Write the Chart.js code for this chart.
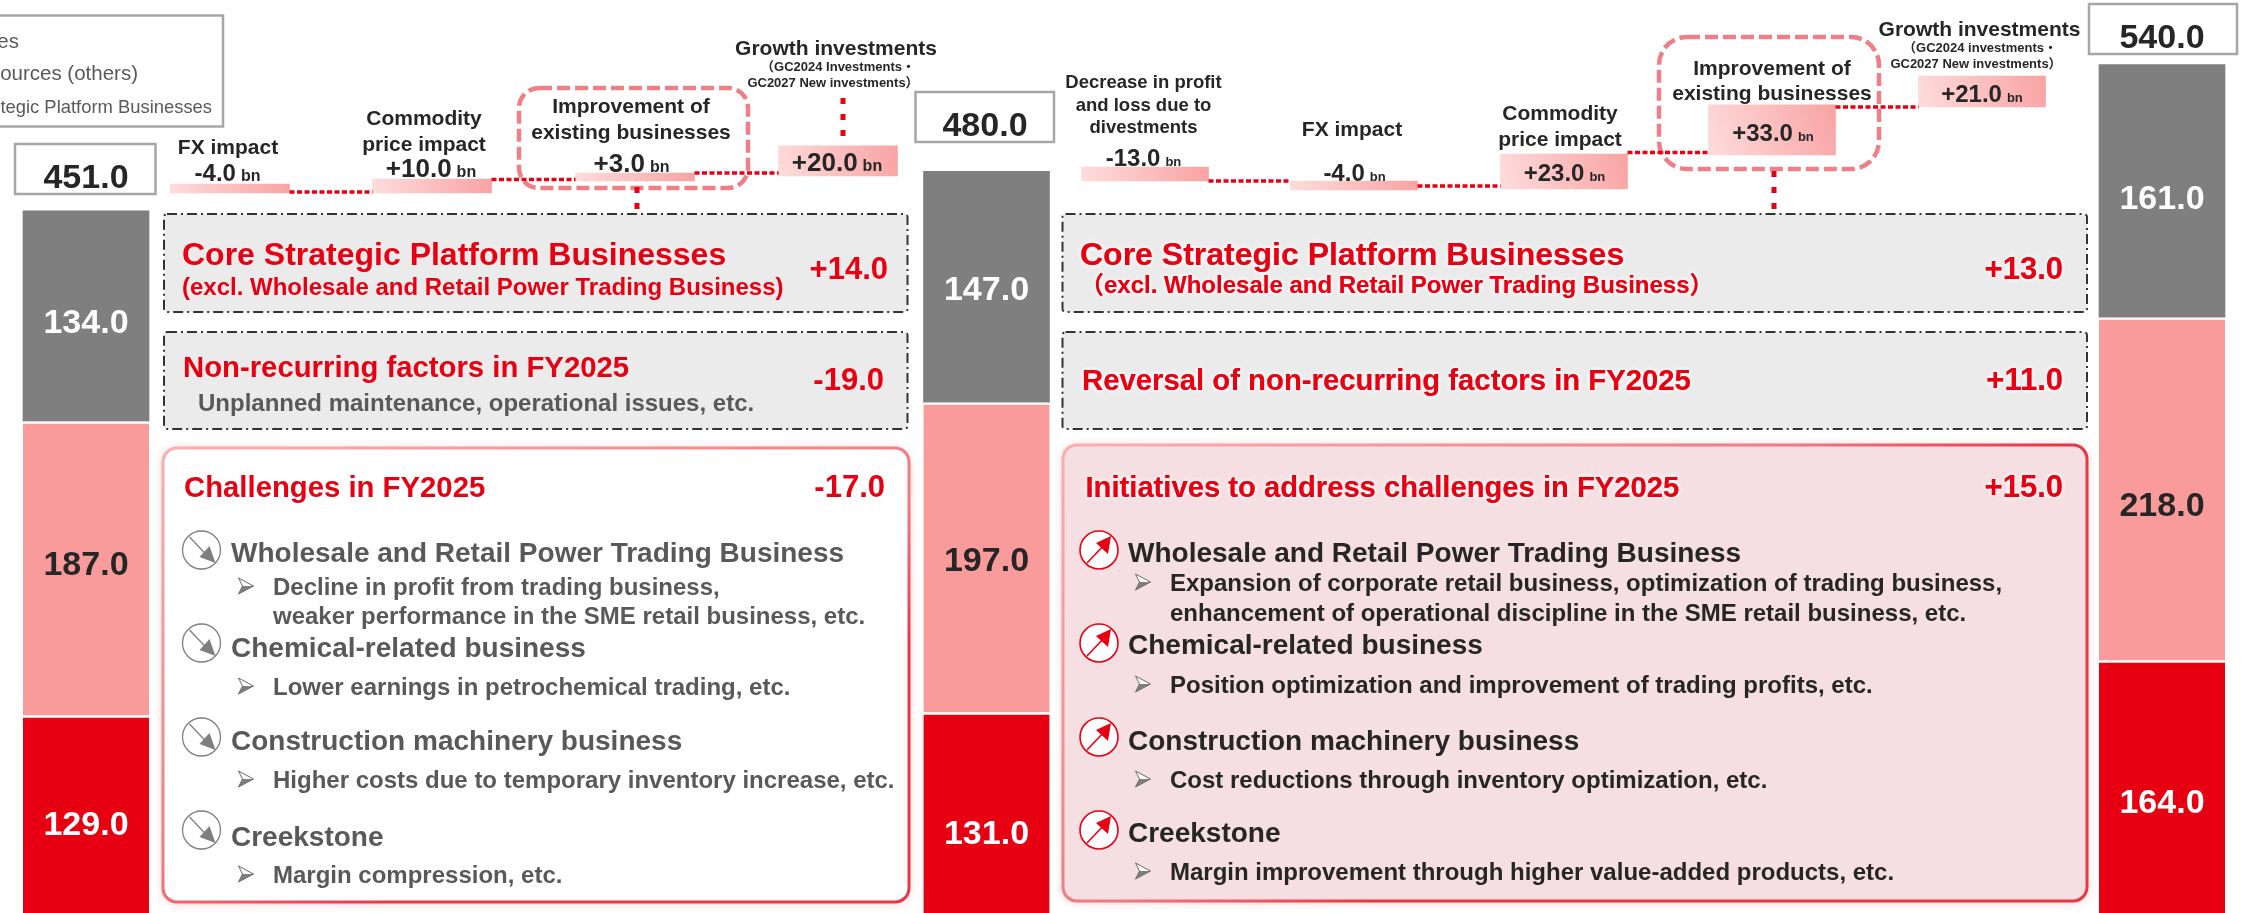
<!DOCTYPE html>
<html><head><meta charset="utf-8">
<style>html,body{margin:0;padding:0;background:#fff;overflow:hidden}canvas{display:block}</style>
<script src="https://cdn.jsdelivr.net/npm/chart.js@4"></script>
</head><body><canvas id="c" width="2241" height="913"></canvas>
<script>
// ---------- data ----------
const categories = ['FY2025','FX impact','Commodity price impact','Improvement of existing businesses','Growth investments','FY2026','Decrease due to divestments','FX impact','Commodity price impact','Improvement of existing businesses','Growth investments','FY2027'];
const coreRed   = [129,null,null,null,null,131,null,null,null,null,null,164];
const corePink  = [187,null,null,null,null,197,null,null,null,null,null,218];
const coreGray  = [134,null,null,null,null,147,null,null,null,null,null,161];
const totalText = ['451.0','480.0','540.0'];
const bridgeLow  = [null,461.3,461.3,468.9,472.1,null,468.9,463.2,463.9,485.5,516.0,null];
const bridgeHigh = [null,467.0,470.2,474.0,491.2,null,477.8,468.9,486.1,517.3,535.7,null];
const connectorLevels = [null,461.9,469.9,474.0,null,null,468.9,465.8,487.1,516.0,null,null];
const bridgeText = [null,'-4.0','+10.0','+3.0','+20.0',null,'-13.0','-4.0','+23.0','+33.0','+21.0',null];

// ---------- layout ----------
const slotCentres = [86,230,432,635,838,986.5,1145,1354,1564,1772,1982,2162];
const W = 2241, H = 913;
const RED='#E60012', PINK='#FA9B9B', GRAY='#7F7F7F', DARK='#262626', MID='#595959';
const FONT='"Liberation Sans", Arial, "Noto Sans CJK JP"';

class SlotScale extends Chart.CategoryScale {
  static id = 'slot';
  static defaults = Chart.CategoryScale.defaults;
  getPixelForValue(v){
    const i = typeof v === 'number' ? v : this.parse(v);
    return this.left + slotCentres[i] / W * this.width;
  }
}
Chart.register(SlotScale);

function zip(a,b,from,to){ return a.map((v,i)=> (v===null||i<from||i>to) ? null : [v,b[i]]); }

function bridgeFill(ctx){
  if(ctx.type!=='data'||!ctx.raw) return '#F9A6A6';
  const s=ctx.chart.scales, cx=s.x.getPixelForValue(ctx.dataIndex), hw=ctx.dataset.maxBarThickness/2;
  const g=ctx.chart.ctx.createLinearGradient(cx-hw,s.y.getPixelForValue(ctx.raw[0]),cx+hw,s.y.getPixelForValue(ctx.raw[1]));
  g.addColorStop(0,'#FEDCDC'); g.addColorStop(1,'#F9A3A3');
  return g;
}

function T(c,s,x,y,size,color,o={}){
  c.save();
  c.font=(o.weight||'bold')+' '+size+'px '+FONT;
  c.fillStyle=color; c.textAlign=o.align||'left'; c.textBaseline='alphabetic';
  if(o.glow){c.shadowColor='rgba(255,255,255,0.95)';c.shadowBlur=5;}
  c.fillText(s,x,y+0.36*size);
  if(o.glow){c.fillText(s,x,y+0.36*size);}
  c.restore();
}
function rr(c,x,y,w,h,r){c.beginPath();c.roundRect(x,y,w,h,r);}
function dashBox(c,x,y,w,h){
  c.save();rr(c,x,y,w,h,3);c.fillStyle='#EBEBEB';c.fill();
  c.setLineDash([10,4,2,4]);c.strokeStyle='#333';c.lineWidth=2;c.stroke();c.restore();
}
function pinkDash(c,x,y,w,h,r){
  c.save();rr(c,x,y,w,h,r);c.setLineDash([13,5]);c.strokeStyle='#EE7F86';c.lineWidth=4.5;c.stroke();c.restore();
}
function redDash(c,x,y1,y2){
  c.save();c.beginPath();c.moveTo(x,y1);c.lineTo(x,y2);c.setLineDash([6,10]);c.strokeStyle=RED;c.lineWidth=5;c.stroke();c.restore();
}
function softPanel(c,x,y,w,h,fill){
  c.save();rr(c,x,y,w,h,14);
  c.shadowColor='rgba(200,60,70,0.30)';c.shadowBlur=10;c.shadowOffsetY=1;
  c.fillStyle=fill;c.fill();c.shadowColor='transparent';
  const g=c.createLinearGradient(x,y,x+w*0.3,y+h);
  g.addColorStop(0,'#F9B0B0');g.addColorStop(0.75,'#F0787F');g.addColorStop(1,'#E63946');
  c.strokeStyle=g;c.lineWidth=3;c.stroke();c.restore();
}
function downIcon(c,cx,cy){
  c.save();c.beginPath();c.arc(cx,cy,19,0,Math.PI*2);c.fillStyle='#fff';c.fill();
  c.strokeStyle='#7F7F7F';c.lineWidth=1.3;c.stroke();
  c.beginPath();c.moveTo(cx-12,cy-13);c.lineTo(cx+8,cy+8);c.stroke();
  c.beginPath();c.moveTo(cx+14,cy+13);c.lineTo(cx-2,cy+7);c.lineTo(cx+8,cy-4);c.closePath();c.fillStyle='#7F7F7F';c.fill();c.restore();
}
function upIcon(c,cx,cy){
  c.save();c.beginPath();c.arc(cx,cy,19,0,Math.PI*2);c.fillStyle='#fff';c.fill();
  c.strokeStyle=RED;c.lineWidth=1.6;c.stroke();
  c.beginPath();c.moveTo(cx-12,cy+13);c.lineTo(cx+7,cy-7);c.stroke();
  c.beginPath();c.moveTo(cx+12,cy-14);c.lineTo(cx+9,cy+4);c.lineTo(cx-3,cy-7);c.closePath();c.fillStyle=RED;c.fill();c.restore();
}
function bullet(c,x,y){
  c.save();c.beginPath();c.moveTo(x-7,y-8);c.lineTo(x+8,y);c.lineTo(x-7,y+8);c.lineTo(x-3,y);c.closePath();
  c.fillStyle='#fff';c.fill();
  c.beginPath();c.moveTo(x+8,y);c.lineTo(x-7,y+8);c.lineTo(x-3,y);c.closePath();c.fillStyle='#7F7F7F';c.fill();
  c.beginPath();c.moveTo(x-7,y-8);c.lineTo(x+8,y);c.lineTo(x-7,y+8);c.lineTo(x-3,y);c.closePath();
  c.strokeStyle='#6b6b6b';c.lineWidth=1;c.stroke();c.restore();
}

const bridgeLabelStyle = {1:[227.5,172,24,16],2:[431,168,26,16],3:[631.5,163,26,16],4:[837,162,26,16],
  6:[1143.5,157,24,13],7:[1354.5,172,24,13],8:[1564.5,172,24,13],9:[1773,132,24,13],10:[1982,93,24,13]};

const slidePlugin = {
  id:'slide',
  beforeDatasetsDraw(chart){
    const c=chart.ctx;
    // legend fragment, cut by the slide edge
    c.save();c.strokeStyle='#A6A6A6';c.lineWidth=2.5;c.strokeRect(-6,15.5,229,111);c.restore();
    T(c,'es',19,41,20.5,MID,{align:'right',weight:'normal'});
    T(c,'ources (others)',138,73,20.5,MID,{align:'right',weight:'normal'});
    T(c,'tegic Platform Businesses',212,106,18.4,MID,{align:'right',weight:'normal'});
    // total boxes
    [[15,144,140.5,50,86,176],[915.5,92,138.5,50,985,124],[2089,4,148,50,2162,36]].forEach((b,i)=>{
      c.save();c.fillStyle='#fff';c.fillRect(b[0],b[1],b[2],b[3]);c.strokeStyle='#A6A6A6';c.lineWidth=2.5;c.strokeRect(b[0],b[1],b[2],b[3]);c.restore();
      T(c,totalText[i],b[4],b[5],34,DARK,{align:'center'});
    });
    // highlight boxes behind bridge bars
    pinkDash(c,519,88,229,100,20);
    pinkDash(c,1659,37,220,132,28);
    redDash(c,637,187,210);
    redDash(c,843,98,140);
    redDash(c,1774,171,210);
  },
  afterDatasetsDraw(chart){
    const c=chart.ctx, x=chart.scales.x, y=chart.scales.y;
    // bar value labels (vertical centres as placed on the slide)
    const labelY=[[823,832,801],[563,559,504],[321,288,197]];
    [[0,'#fff'],[1,DARK],[2,'#fff']].forEach(([ds,col])=>{
      const meta=chart.getDatasetMeta(ds), src=chart.data.datasets[ds].data;
      [0,5,11].forEach((idx,j)=>{
        T(c,src[idx].toFixed(1),meta.data[idx].x,labelY[ds][j],34,col,{align:'center'});
      });
    });
    // bridge connectors
    c.save();c.strokeStyle=RED;c.lineWidth=3.5;c.setLineDash([5,2.5]);
    connectorLevels.forEach((lv,i)=>{
      if(lv===null) return;
      const ds=i<5?3:4, a=chart.getDatasetMeta(ds).data[i], b=chart.getDatasetMeta(ds).data[i+1];
      const yy=y.getPixelForValue(lv);
      c.beginPath();c.moveTo(a.x+a.width/2,yy);c.lineTo(b.x-b.width/2,yy);c.stroke();
    });
    c.restore();
    // bridge labels
    bridgeText.forEach((s,i)=>{
      if(!s) return;
      const [cx,cy,size,small]=bridgeLabelStyle[i];
      c.save();c.font='bold '+size+'px '+FONT;const w1=c.measureText(s).width;
      c.font='bold '+small+'px '+FONT;const w2=c.measureText('bn').width;c.restore();
      const left=cx-(w1+5+w2)/2;
      T(c,s,left,cy,size,DARK);
      c.save();c.font='bold '+small+'px '+FONT;c.fillStyle=DARK;c.fillText('bn',left+w1+5,cy+0.36*size);c.restore();
    });
    // bridge captions
    const cap=(s,cx,cy,size=21)=>T(c,s,cx,cy,size,DARK,{align:'center'});
    cap('FX impact',228,146);
    cap('Commodity',424,117);cap('price impact',424,143);
    cap('Improvement of',631,105);cap('existing businesses',631,131);
    cap('Growth investments',836,47);
    cap('（GC2024 Investments・',838,66,13);cap('GC2027 New investments）',833,82,13);
    cap('Decrease in profit',1143.5,81,18.5);cap('and loss due to',1143.5,104,18.5);cap('divestments',1143.5,126,18.5);
    cap('FX impact',1352,128);
    cap('Commodity',1560,112);cap('price impact',1560,138);
    cap('Improvement of',1772,67);cap('existing businesses',1772,92);
    cap('Growth investments',1979.5,28);
    cap('（GC2024 investments・',1980,47,13);cap('GC2027 New investments）',1976,63,13);

    // left panels
    dashBox(c,164,214,743.5,98);
    T(c,'Core Strategic Platform Businesses',182,253,32,RED);
    T(c,'(excl. Wholesale and Retail Power Trading Business)',182,286,24,RED);
    T(c,'+14.0',888,268,31,RED,{align:'right'});
    dashBox(c,164,332,743.5,97);
    T(c,'Non-recurring factors in FY2025',183,366,29.3,RED);
    T(c,'Unplanned maintenance, operational issues, etc.',198,402,24,MID);
    T(c,'-19.0',884,379,31,RED,{align:'right'});
    softPanel(c,163,448,746,454,'#FFFFFF');
    T(c,'Challenges in FY2025',184,486,29.3,RED);
    T(c,'-17.0',885,486,31,RED,{align:'right'});
    [550,643,737,830].forEach(v=>downIcon(c,201.5,v));
    [['Wholesale and Retail Power Trading Business',552],['Chemical-related business',647],['Construction machinery business',740],['Creekstone',836]]
      .forEach(([s,v])=>T(c,s,231,v,28,MID));
    [[586],[686],[779],[874]].forEach(([v])=>bullet(c,245.5,v));
    [['Decline in profit from trading business,',586],['weaker performance in the SME retail business, etc.',615],['Lower earnings in petrochemical trading, etc.',686],['Higher costs due to temporary inventory increase, etc.',779],['Margin compression, etc.',874]]
      .forEach(([s,v])=>T(c,s,273,v,24,MID));

    // right panels
    dashBox(c,1062.5,214,1024.5,98);
    T(c,'Core Strategic Platform Businesses',1080,253,32,RED,{glow:true});
    T(c,'（excl. Wholesale and Retail Power Trading Business）',1080,284,24,RED,{glow:true});
    T(c,'+13.0',2063,268,31,RED,{align:'right',glow:true});
    dashBox(c,1062.5,332,1024.5,97);
    T(c,'Reversal of non-recurring factors in FY2025',1082,379,29.3,RED,{glow:true});
    T(c,'+11.0',2063,379,31,RED,{align:'right',glow:true});
    softPanel(c,1063,445,1024,456,'#F5DFE2');
    T(c,'Initiatives to address challenges in FY2025',1085.5,486,29.2,RED,{glow:true});
    T(c,'+15.0',2063,486,31,RED,{align:'right',glow:true});
    [550,643,737,830].forEach(v=>upIcon(c,1099,v));
    [['Wholesale and Retail Power Trading Business',552],['Chemical-related business',644],['Construction machinery business',740],['Creekstone',832]]
      .forEach(([s,v])=>T(c,s,1128,v,28,DARK));
    [[582],[684],[779],[871]].forEach(([v])=>bullet(c,1142.5,v));
    [['Expansion of corporate retail business, optimization of trading business,',582],['enhancement of operational discipline in the SME retail business, etc.',612],['Position optimization and improvement of trading profits, etc.',684],['Cost reductions through inventory optimization, etc.',779],['Margin improvement through higher value-added products, etc.',871]]
      .forEach(([s,v])=>T(c,s,1170,v,24,DARK));
  }
};

const seg=(label,data,color,gap)=>({label,data,stack:'core',backgroundColor:color,borderColor:'#fff',
  borderWidth:{top:gap,left:0,right:0,bottom:0},borderSkipped:false,grouped:false,maxBarThickness:126,categoryPercentage:1,barPercentage:1});
const br=(label,data,width)=>({label,data,stack:label,backgroundColor:bridgeFill,borderWidth:0,grouped:false,maxBarThickness:width,categoryPercentage:1,barPercentage:1});

new Chart(document.getElementById('c'),{
  type:'bar',
  data:{labels:categories,datasets:[
    seg('Core Strategic Platform Businesses',coreRed,RED,2.5),
    seg('Middle segment',corePink,PINK,2.5),
    seg('Top segment',coreGray,GRAY,0),
    br('bridgeA',zip(bridgeLow,bridgeHigh,0,4),119),
    br('bridgeB',zip(bridgeLow,bridgeHigh,5,11),127)
  ]},
  options:{
    responsive:false,animation:false,layout:{padding:0},
    plugins:{legend:{display:false},tooltip:{enabled:false},title:{display:false}},
    scales:{
      x:{type:'slot',display:false,stacked:true,offset:false},
      y:{type:'linear',display:false,stacked:true,min:3.5,max:584}
    }
  },
  plugins:[slidePlugin]
});
</script></body></html>
